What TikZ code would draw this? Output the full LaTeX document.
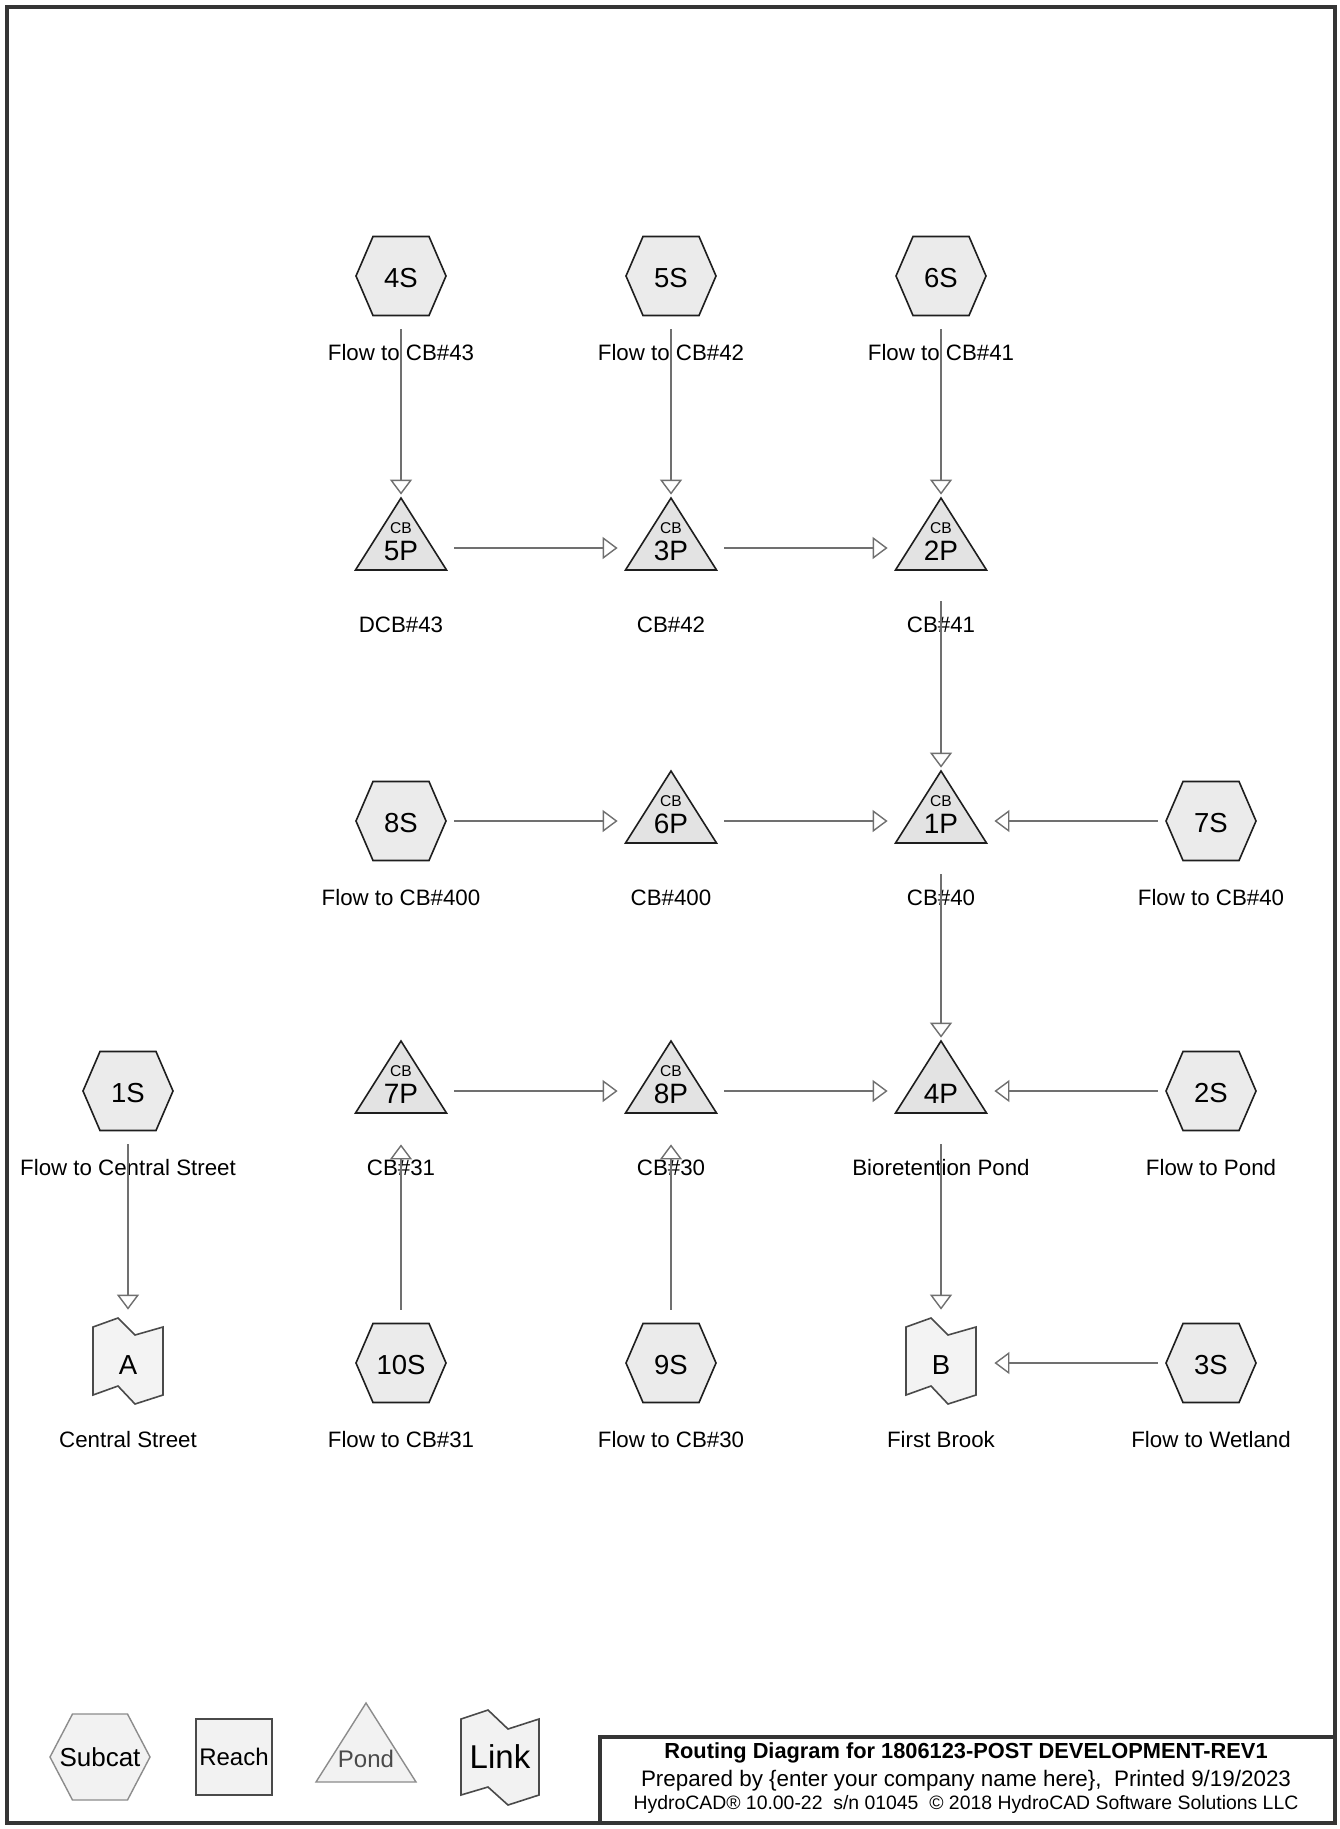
\documentclass[tikz,border=0pt]{standalone}
\usepackage{fontspec}
\setmainfont{Liberation Sans}
\usetikzlibrary{arrows.meta}
\definecolor{bordercol}{HTML}{353535}
\definecolor{conncol}{HTML}{707070}
\definecolor{nodeline}{HTML}{1E1E1E}
\definecolor{hexfill}{HTML}{EBEBEB}
\definecolor{pondfill}{HTML}{E3E3E3}
\definecolor{linkfill}{HTML}{F3F3F3}
\definecolor{legline}{HTML}{8C8C8C}
\definecolor{legdark}{HTML}{4A4A4A}
\definecolor{legfill}{HTML}{F2F2F2}
\tikzset{
  shapeline/.style={draw=nodeline, line width=0.8pt, line join=miter},
  hexshape/.pic={\draw[shapeline,fill=hexfill] (-45,0) -- (-28,-39.5) -- (28,-39.5) -- (45,0) -- (28,39.5) -- (-28,39.5) -- cycle;},
  pondshape/.pic={\draw[shapeline,fill=pondfill] (0,-50) -- (45.5,22) -- (-45.5,22) -- cycle;},
  linkshape/.pic={\draw[shapeline,draw=legdark,fill=linkfill] (-35,-36) -- (-10,-45) -- (7,-28) -- (35,-36) -- (35,32) -- (7,41) -- (-10,23) -- (-35,32) -- cycle;},
  port/.style={circle, inner sep=0pt, minimum size=53pt, text=black,
    font=\fontsize{13.75pt}{16pt}\selectfont, text height=11.8pt, text depth=0pt},
  pondtext/.style={circle, inner sep=0pt, minimum size=53pt, text=black,
    font=\fontsize{14pt}{16pt}\selectfont, text height=12pt, text depth=0pt},
  cbtext/.style={inner sep=0pt, text=black, font=\fontsize{7.8pt}{9pt}\selectfont, text height=5.6pt, text depth=0pt},
  lbl/.style={inner sep=0pt, text=black, font=\fontsize{11.15pt}{13pt}\selectfont, text height=8pt, text depth=0pt},
  conn/.style={draw=conncol, line width=0.7pt, -{Triangle[open, length=7.5pt, width=11pt, line width=0.7pt]}},
  border/.style={draw=bordercol, line width=2pt},
  legtext/.style={inner sep=0pt, text=black, text depth=0pt},
  titletext/.style={inner sep=0pt, text=black, text depth=0pt}
}
\newcommand\subcatnode[4]{%
  \pic at (#2) {hexshape};
  \node[port] (#1) at (#2) {#3};
  \node[lbl] (#1-l) at ([yshift=-38pt]#1.center) {#4};}
\newcommand\cbpond[4]{%
  \pic at (#2) {pondshape};
  \node[pondtext] (#1) at (#2) {#3};
  \node[cbtext] (#1-cb) at ([yshift=10pt]#1.center) {CB};
  \node[lbl] (#1-l) at ([yshift=-38pt]#1.center) {#4};}
\newcommand\linknode[4]{%
  \pic at (#2) {linkshape};
  \node[port] (#1) at (#2) {#3};
  \node[lbl] (#1-l) at ([yshift=-38pt]#1.center) {#4};}
\begin{document}
\begin{tikzpicture}[x=0.5pt,y=-0.5pt]
\useasboundingbox (0,0) rectangle (1339,1829);
\fill[white] (0,0) rectangle (1339,1829);
% frame
\draw[border] (7,7) rectangle (1335,1823);
% row 1
\subcatnode{s4}{401,276}{4S}{Flow to CB\#43}
\subcatnode{s5}{671,276}{5S}{Flow to CB\#42}
\subcatnode{s6}{941,276}{6S}{Flow to CB\#41}
% row 2
\cbpond{p5}{401,548}{5P}{DCB\#43}
\cbpond{p3}{671,548}{3P}{CB\#42}
\cbpond{p2}{941,548}{2P}{CB\#41}
% row 3
\subcatnode{s8}{401,821}{8S}{Flow to CB\#400}
\cbpond{p6}{671,821}{6P}{CB\#400}
\cbpond{p1}{941,821}{1P}{CB\#40}
\subcatnode{s7}{1211,821}{7S}{Flow to CB\#40}
% row 4
\subcatnode{s1}{128,1091}{1S}{Flow to Central Street}
\cbpond{p7}{401,1091}{7P}{CB\#31}
\cbpond{p8}{671,1091}{8P}{CB\#30}
\pic at (941,1091) {pondshape};
\node[pondtext] (p4) at (941,1091) {4P};
\node[lbl] (p4-l) at ([yshift=-38pt]p4.center) {Bioretention Pond};
\subcatnode{s2}{1211,1091}{2S}{Flow to Pond}
% row 5
\linknode{lA}{128,1363}{A}{Central Street}
\subcatnode{s10}{401,1363}{10S}{Flow to CB\#31}
\subcatnode{s9}{671,1363}{9S}{Flow to CB\#30}
\linknode{lB}{941,1363}{B}{First Brook}
\subcatnode{s3}{1211,1363}{3S}{Flow to Wetland}
% connectors
\draw[conn] (s4) -- (p5);
\draw[conn] (s5) -- (p3);
\draw[conn] (s6) -- (p2);
\draw[conn] (p5) -- (p3);
\draw[conn] (p3) -- (p2);
\draw[conn] (p2) -- (p1);
\draw[conn] (s8) -- (p6);
\draw[conn] (p6) -- (p1);
\draw[conn] (s7) -- (p1);
\draw[conn] (p1) -- (p4);
\draw[conn] (s1) -- (lA);
\draw[conn] (p7) -- (p8);
\draw[conn] (p8) -- (p4);
\draw[conn] (s2) -- (p4);
\draw[conn] (s10) -- (p7);
\draw[conn] (s9) -- (p8);
\draw[conn] (p4) -- (lB);
\draw[conn] (s3) -- (lB);
% legend
\draw[draw=legline, line width=0.7pt, fill=legfill] (50,1757) -- (72.5,1714) -- (127.5,1714) -- (150,1757) -- (127.5,1800) -- (72.5,1800) -- cycle;
\node[legtext, font=\fontsize{13pt}{15pt}\selectfont, text height=9.3pt] (leg-subcat) at (100,1757) {Subcat};
\draw[draw=legdark, line width=0.8pt, fill=legfill] (196,1719) rectangle (272,1795);
\node[legtext, font=\fontsize{12pt}{14pt}\selectfont, text height=8.6pt] (leg-reach) at (234,1757) {Reach};
\draw[draw=legline, line width=0.7pt, fill=legfill] (366,1703) -- (416,1782) -- (316,1782) -- cycle;
\node[legtext, font=\fontsize{12pt}{14pt}\selectfont, text height=8.6pt, text=legdark] (leg-pond) at (366,1759) {Pond};
\draw[draw=legdark, line width=0.8pt, fill=legfill] (461,1719) -- (488,1710) -- (508,1729) -- (539,1719) -- (539,1795) -- (508,1805) -- (488,1787) -- (461,1795) -- cycle;
\node[legtext, font=\fontsize{16.5pt}{19pt}\selectfont, text height=11.8pt] (leg-link) at (500,1757) {Link};
% title block
\draw[border] (600,1737) rectangle (1335,1823);
\node[titletext, font=\fontsize{10.9pt}{13pt}\selectfont\bfseries, text height=7.8pt] (t1) at (966,1751) {Routing Diagram for 1806123-POST DEVELOPMENT-REV1};
\node[titletext, font=\fontsize{11.2pt}{13pt}\selectfont, text height=8pt] (t2) at (966,1778) {Prepared by \{enter your company name here\},\ \ Printed 9/19/2023};
\node[titletext, font=\fontsize{9.7pt}{12pt}\selectfont, text height=7pt] (t3) at (966,1802) {HydroCAD® 10.00-22\ \ s/n 01045\ \ © 2018 HydroCAD Software Solutions LLC};
\end{tikzpicture}
\end{document}
